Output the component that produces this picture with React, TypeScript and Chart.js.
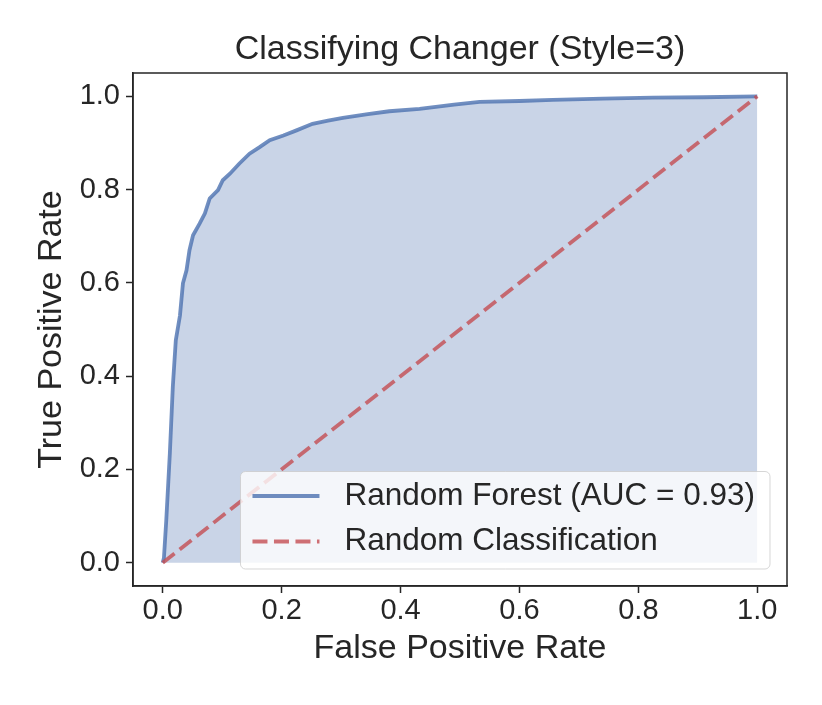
import { useEffect, useRef } from "react";
import { Chart, registerables } from "chart.js";

Chart.register(...registerables);

// ---- data ----
const FPR = [
  0, 0.002, 0.006, 0.012, 0.017, 0.022, 0.029, 0.034, 0.04, 0.045, 0.051, 0.062, 0.071,
  0.079, 0.093, 0.101, 0.113, 0.129, 0.146, 0.163, 0.18, 0.203, 0.225, 0.252, 0.278,
  0.303, 0.345, 0.381, 0.432, 0.49, 0.533, 0.6, 0.656, 0.74, 0.824, 0.91, 1.0,
];
const TPR = [
  0, 0.01, 0.092, 0.235, 0.378, 0.477, 0.53, 0.599, 0.627, 0.67, 0.702, 0.727, 0.749,
  0.781, 0.799, 0.82, 0.834, 0.856, 0.877, 0.891, 0.906, 0.916, 0.927, 0.941, 0.948,
  0.954, 0.962, 0.968, 0.973, 0.982, 0.988, 0.99, 0.9925, 0.995, 0.997, 0.998, 1.0,
];
const DIAG_X = [0, 1];
const DIAG_Y = [0, 1];
const TICKS = [0, 0.2, 0.4, 0.6, 0.8, 1.0];

const TITLE = "Classifying Changer (Style=3)";
const X_LABEL = "False Positive Rate";
const Y_LABEL = "True Positive Rate";
const ROC_LABEL = "Random Forest (AUC = 0.93)";
const DIAG_LABEL = "Random Classification";

// ---- styles ----
const FONT = "'Liberation Sans', Arial, Helvetica, sans-serif";
const TEXT = "#262626";
const SPINE = "#262626";
const BLUE = "rgba(76,114,176,0.8)";
const BLUE_FILL = "rgba(76,114,176,0.3)";
const RED = "rgba(196,78,82,0.8)";
const DASH = [15, 6.5];

const titlePlugin = {
  id: "customTitle",
  afterDraw(chart: any) {
    const { ctx, chartArea } = chart;
    ctx.save();
    ctx.fillStyle = TEXT;
    ctx.font = `34px ${FONT}`;
    ctx.textAlign = "center";
    ctx.textBaseline = "middle";
    ctx.fillText(TITLE, (chartArea.left + chartArea.right) / 2, 50);
    ctx.restore();
  },
};

const boxPlugin = {
  id: "axesBox",
  afterDraw(chart: any) {
    const { ctx, chartArea } = chart;
    ctx.save();
    ctx.strokeStyle = SPINE;
    ctx.lineWidth = 1.5;
    ctx.strokeRect(
      chartArea.left,
      chartArea.top,
      chartArea.right - chartArea.left,
      chartArea.bottom - chartArea.top
    );
    ctx.restore();
  },
};

const legendPlugin = {
  id: "lowerRightLegend",
  afterDatasetsDraw(chart: any) {
    const { ctx, chartArea } = chart;
    ctx.save();
    ctx.font = `31.5px ${FONT}`;
    const tw = Math.max(ctx.measureText(ROC_LABEL).width, ctx.measureText(DIAG_LABEL).width);
    const boxRight = chartArea.right - 17;
    const boxBottom = chartArea.bottom - 17;
    const textStart = boxRight - 15 - tw;
    const handleEnd = textStart - 25;
    const handleStart = handleEnd - 67;
    const boxLeft = handleStart - 12;
    const boxTop = boxBottom - 97.5;
    ctx.beginPath();
    (ctx as any).roundRect(boxLeft, boxTop, boxRight - boxLeft, boxBottom - boxTop, 5);
    ctx.fillStyle = "rgba(255,255,255,0.8)";
    ctx.fill();
    ctx.strokeStyle = "rgba(204,204,204,0.8)";
    ctx.lineWidth = 1;
    ctx.stroke();

    const rows = [
      { label: ROC_LABEL, color: BLUE, dash: [] as number[], y: boxBottom - 73 },
      { label: DIAG_LABEL, color: RED, dash: DASH, y: boxBottom - 27.5 },
    ];
    rows.forEach((r) => {
      ctx.beginPath();
      ctx.setLineDash(r.dash);
      ctx.strokeStyle = r.color;
      ctx.lineWidth = 3.8;
      ctx.lineCap = "butt";
      ctx.moveTo(handleStart, r.y);
      ctx.lineTo(handleEnd, r.y);
      ctx.stroke();
      ctx.setLineDash([]);
      ctx.fillStyle = TEXT;
      ctx.textAlign = "left";
      ctx.textBaseline = "middle";
      ctx.fillText(r.label, textStart, r.y);
    });
    ctx.restore();
  },
};

export default function App() {
  const ref = useRef<HTMLCanvasElement | null>(null);

  useEffect(() => {
    if (!ref.current) return;
    const chart = new Chart(ref.current, {
      type: "line",
      data: {
        datasets: [
          {
            label: DIAG_LABEL,
            data: DIAG_X.map((x, i) => ({ x, y: DIAG_Y[i] })),
            borderColor: RED,
            borderWidth: 3.8,
            borderDash: DASH,
            pointRadius: 0,
            fill: false,
            tension: 0,
          },
          {
            label: ROC_LABEL,
            data: FPR.map((x, i) => ({ x, y: TPR[i] })),
            borderColor: BLUE,
            backgroundColor: BLUE_FILL,
            borderWidth: 3.8,
            pointRadius: 0,
            fill: "origin",
            tension: 0,
          },
        ],
      },
      options: {
        animation: false,
        responsive: false,
        devicePixelRatio: 1,
        layout: { padding: { left: 0, right: 35, top: 73, bottom: 0 } },
        plugins: {
          legend: { display: false },
          title: { display: false },
          tooltip: { enabled: false },
        },
        scales: {
          x: {
            type: "linear",
            min: -0.05,
            max: 1.05,
            afterBuildTicks: (s: any) => {
              s.ticks = TICKS.map((v) => ({ value: v }));
            },
            afterFit: (s: any) => {
              s.height = 119;
            },
            grid: {
              drawOnChartArea: false,
              drawTicks: true,
              tickLength: 7,
              tickWidth: 1.5,
              tickColor: SPINE,
            },
            border: { display: true, color: SPINE, width: 1.5 },
            ticks: {
              padding: 1,
              color: TEXT,
              font: { family: FONT, size: 29 },
              maxRotation: 0,
              autoSkip: false,
              callback: (v: any) => Number(v).toFixed(1),
            },
            title: {
              display: true,
              text: X_LABEL,
              color: TEXT,
              font: { family: FONT, size: 34 },
              padding: { top: 0, bottom: 36 },
            },
          },
          y: {
            type: "linear",
            min: -0.05,
            max: 1.05,
            afterBuildTicks: (s: any) => {
              s.ticks = TICKS.map((v) => ({ value: v }));
            },
            afterFit: (s: any) => {
              s.width = 133;
            },
            grid: {
              drawOnChartArea: false,
              drawTicks: true,
              tickLength: 7,
              tickWidth: 1.5,
              tickColor: SPINE,
            },
            border: { display: true, color: SPINE, width: 1.5 },
            ticks: {
              padding: 6,
              color: TEXT,
              font: { family: FONT, size: 29 },
              autoSkip: false,
              callback: (v: any) => Number(v).toFixed(1),
            },
            title: {
              display: true,
              text: Y_LABEL,
              color: TEXT,
              font: { family: FONT, size: 34 },
              padding: { top: 31, bottom: 0 },
            },
          },
        },
      },
      plugins: [legendPlugin, boxPlugin, titlePlugin],
    });
    return () => chart.destroy();
  }, []);

  return (
    <div style={{ position: "absolute", left: 0, top: 0, width: 822, height: 705, background: "#fff" }}>
      <canvas ref={ref} width={822} height={705} style={{ width: 822, height: 705, display: "block" }} />
    </div>
  );
}
